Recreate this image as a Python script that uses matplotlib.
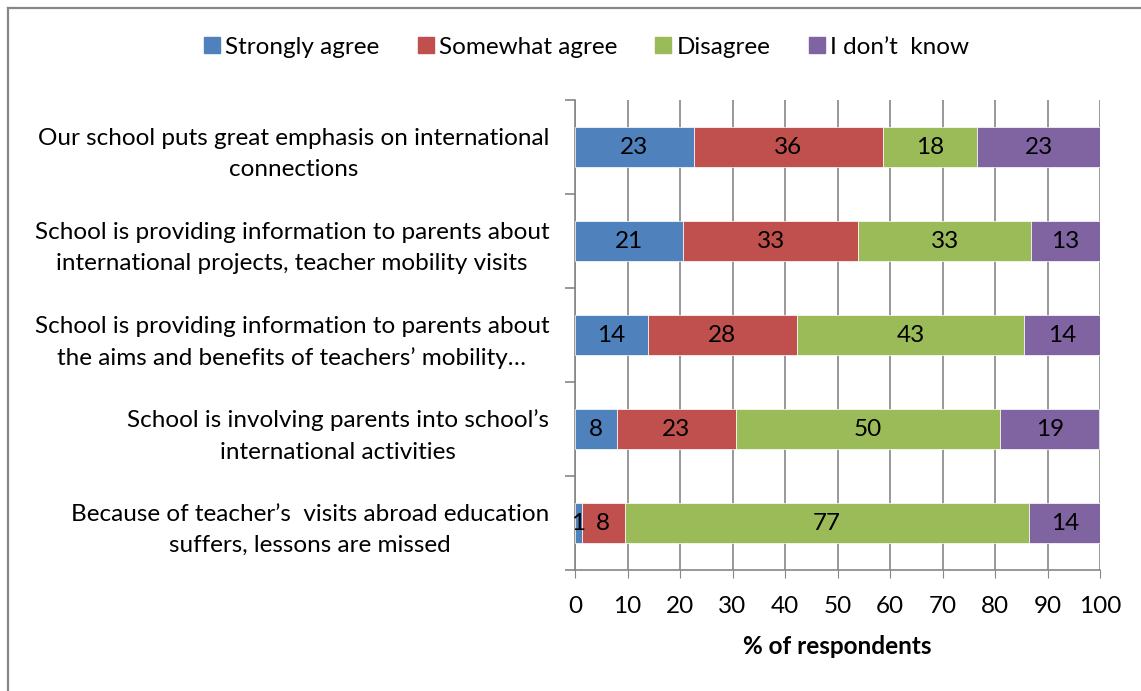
import matplotlib.pyplot as plt
from matplotlib.lines import Line2D

plt.rcParams['font.family'] = ['Lato', 'DejaVu Sans']

# Datos
categorias = [
    "Our school puts great emphasis on international\nconnections",
    "School is providing information to parents about\ninternational projects, teacher mobility visits",
    "School is providing information to parents about\nthe aims and benefits of teachers\u2019 mobility\u2026",
    "School is involving parents into school\u2019s\ninternational activities",
    "Because of teacher\u2019s  visits abroad education\nsuffers, lessons are missed",
]
series = ["Strongly agree", "Somewhat agree", "Disagree", "I don\u2019t  know"]
strongly_agree = [22.6, 20.6, 13.9, 8.0, 1.3]
somewhat_agree = [36.0, 33.3, 28.3, 22.6, 8.2]
disagree = [18.0, 33.0, 43.4, 50.4, 77.0]
dont_know = [23.4, 13.1, 14.4, 18.9, 13.6]
colores = ['#4F81BD', '#C0504D', '#9BBB59', '#8064A2']
valores = [strongly_agree, somewhat_agree, disagree, dont_know]

W, H = 1141, 691
fs = 17.5
fig = plt.figure(figsize=(W / 100, H / 100), dpi=100)
ax = fig.add_axes([575 / W, 1 - 570 / H, 525 / W, 470 / H])

y = list(range(len(categorias)))
izq = [0] * len(categorias)
for nombre, vals, c in zip(series, valores, colores):
    bars = ax.barh(y, vals, left=izq, height=0.42, color=c, edgecolor='white',
                   linewidth=0.5, label=nombre, zorder=3)
    for b, v in zip(bars, vals):
        ax.text(b.get_x() + b.get_width() / 2, b.get_y() + b.get_height() / 2,
                f"{v:.0f}", ha='center', va='center', fontsize=fs, color='black', zorder=4)
    izq = [a + b for a, b in zip(izq, vals)]

ax.set_xlim(0, 100)
ax.set_ylim(4.5, -0.5)
ax.set_xticks(range(0, 101, 10))
ax.tick_params(axis='x', labelsize=fs, length=6, color='#868686', pad=13)
ax.set_yticks(y)
ax.set_yticklabels(categorias, fontsize=fs, multialignment='center', linespacing=1.6)
ax.tick_params(axis='y', length=0, pad=18.5)
ax.set_yticks([i - 0.5 for i in range(len(categorias) + 1)], minor=True)
ax.tick_params(axis='y', which='minor', length=7, color='#868686', width=1.2)
ax.grid(axis='x', color='#868686', linewidth=1.2, zorder=0)
for s in ['top', 'right']:
    ax.spines[s].set_visible(False)
for s in ['left', 'bottom']:
    ax.spines[s].set_color('#868686')
    ax.spines[s].set_linewidth(1.2)
ax.set_xlabel('% of respondents', fontsize=fs, fontweight='bold', labelpad=13)

# Leyenda
handles = [Line2D([], [], marker='s', linestyle='', markersize=12, color=c) for c in colores]
fig.legend(handles, series, loc='center', bbox_to_anchor=(585 / W, 1 - 47 / H), ncol=4,
           frameon=False, fontsize=fs, handletextpad=0.1, columnspacing=1.45, handlelength=0.9)

# Marco
fig.add_artist(Line2D([8 / W, 1], [1 - 8 / H, 1 - 8 / H], color='#878787', linewidth=1.6))
fig.add_artist(Line2D([8 / W, 8 / W], [0, 1 - 8 / H], color='#878787', linewidth=1.6))

fig.savefig('out.png', dpi=100)
